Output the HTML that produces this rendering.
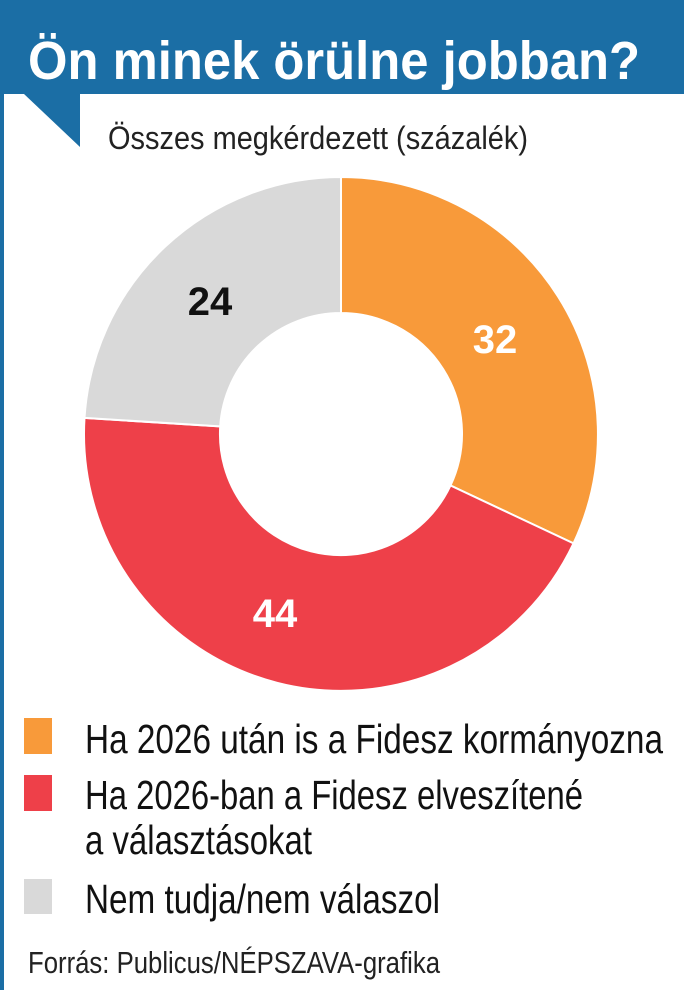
<!DOCTYPE html>
<html><head><meta charset="utf-8"><style>
html,body{margin:0;padding:0;background:#fff}
svg{display:block}
</style></head><body>
<svg width="684" height="990" viewBox="0 0 684 990" xmlns="http://www.w3.org/2000/svg" font-family="'Liberation Sans Narrow','Liberation Sans',sans-serif">
<rect width="684" height="990" fill="#fff"/>
<rect x="0" y="0" width="684" height="94" fill="#1b6ea5"/>
<rect x="0" y="0" width="4" height="990" fill="#1b6ea5"/>
<polygon points="24,94 80,94 80,147" fill="#1b6ea5"/>
<text x="28" y="79" font-size="54" font-weight="bold" fill="#fff" textLength="612" lengthAdjust="spacingAndGlyphs">Ön minek örülne jobban?</text>
<text x="108" y="149" font-size="32" fill="#222" textLength="420" lengthAdjust="spacingAndGlyphs">Összes megkérdezett (százalék)</text>
<g stroke="#fff" stroke-width="2">
<path d="M341,177 A257,257 0 0 1 573.5,543.4 L450.5,485.5 A121,121 0 0 0 341,313 Z" fill="#f89a3a"/>
<path d="M573.5,543.4 A257,257 0 0 1 84.5,417.9 L220.2,426.4 A121,121 0 0 0 450.5,485.5 Z" fill="#ee4049"/>
<path d="M84.5,417.9 A257,257 0 0 1 341,177 L341,313 A121,121 0 0 0 220.2,426.4 Z" fill="#d9d9d9"/>
</g>
<g font-size="40" font-weight="bold" text-anchor="middle">
<text x="495" y="353" fill="#fff">32</text>
<text x="275" y="627" fill="#fff">44</text>
<text x="210" y="315" fill="#111">24</text>
</g>
<rect x="24" y="718" width="28" height="36" fill="#f89a3a"/>
<rect x="24" y="775" width="28" height="36" fill="#ee4049"/>
<rect x="24" y="879" width="28" height="35" fill="#d9d9d9"/>
<g font-size="41" fill="#111">
<text x="85" y="753" textLength="578" lengthAdjust="spacingAndGlyphs">Ha 2026 után is a Fidesz kormányozna</text>
<text x="85" y="809" textLength="498" lengthAdjust="spacingAndGlyphs">Ha 2026-ban a Fidesz elveszítené</text>
<text x="85" y="854" textLength="227" lengthAdjust="spacingAndGlyphs">a választásokat</text>
<text x="85" y="913" textLength="355" lengthAdjust="spacingAndGlyphs">Nem tudja/nem válaszol</text>
</g>
<text x="28" y="973" font-size="31" fill="#222" textLength="412" lengthAdjust="spacingAndGlyphs">Forrás: Publicus/NÉPSZAVA-grafika</text>
</svg>
</body></html>
